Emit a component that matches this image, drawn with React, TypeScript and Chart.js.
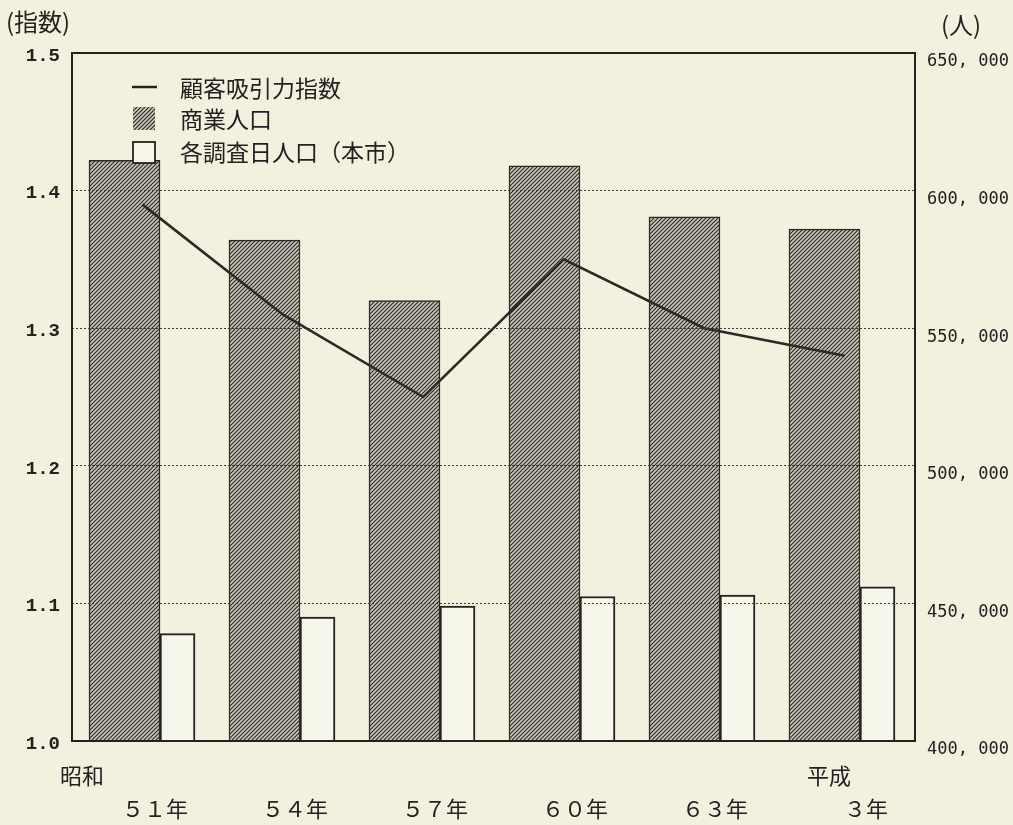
import { useEffect, useRef } from 'react';
import { Chart, registerables } from 'chart.js';

Chart.register(...registerables);

// ---- data ----
const categories = ['５１年', '５４年', '５７年', '６０年', '６３年', '３年'];
const eraLabels = ['昭和', '', '', '', '', '平成'];
const attractionIndex = [1.39, 1.31, 1.25, 1.35, 1.30, 1.28];
const commercialPopulation = [611000, 582000, 560000, 609000, 590500, 586000];
const surveyDayPopulation = [439000, 445000, 449000, 452500, 453000, 456000];
const leftTicks = [1.0, 1.1, 1.2, 1.3, 1.4, 1.5];
const rightTicks = [400000, 450000, 500000, 550000, 600000, 650000];
const seriesNames = ['顧客吸引力指数', '商業人口', '各調査日人口（本市）'];
const leftAxisTitle = '(指数)';
const rightAxisTitle = '(人)';

// ---- style ----
const BG = '#f2f1df';
const INK = '#232220';
const CJK = '"Noto Sans CJK JP", "Noto Sans", sans-serif';
const eraOffsets: Record<number, number> = { 0: -100, 5: -53 };

function makeHatch(ctx: CanvasRenderingContext2D) {
  const c = document.createElement('canvas');
  c.width = 4;
  c.height = 4;
  const g = c.getContext('2d')!;
  g.fillStyle = '#c9c7bb';
  g.fillRect(0, 0, 4, 4);
  g.strokeStyle = '#2a2925';
  g.lineWidth = 1.15;
  g.beginPath();
  g.moveTo(0, 4); g.lineTo(4, 0);
  g.moveTo(-1, 1); g.lineTo(1, -1);
  g.moveTo(3, 5); g.lineTo(5, 3);
  g.stroke();
  return ctx.createPattern(c, 'repeat')!;
}

export default function App() {
  const ref = useRef<HTMLCanvasElement>(null);

  useEffect(() => {
    const canvas = ref.current!;
    const ctx = canvas.getContext('2d')!;
    const hatch = makeHatch(ctx);

    const decor = {
      id: 'decor',
      afterDraw(chart: any) {
        const c = chart.ctx as CanvasRenderingContext2D;
        const a = chart.chartArea;
        c.save();
        // frame
        c.strokeStyle = INK;
        c.lineWidth = 2;
        c.strokeRect(a.left, a.top, a.right - a.left, a.bottom - a.top);
        // axis titles
        c.fillStyle = INK;
        c.textBaseline = 'middle';
        c.textAlign = 'left';
        c.font = `24px ${CJK}`;
        c.fillText(leftAxisTitle, 6, 22);
        c.fillText(rightAxisTitle, 941, 25);
        // era labels
        const xs = chart.scales.x;
        c.font = `22px ${CJK}`;
        eraLabels.forEach((t, i) => {
          if (!t) return;
          c.fillText(t, xs.getPixelForValue(i) + (eraOffsets[i] ?? 0), 776);
        });
        // legend
        const lx = a.left + 60;
        c.font = `23px ${CJK}`;
        c.strokeStyle = INK;
        c.lineWidth = 2.5;
        c.beginPath();
        c.moveTo(lx, 87);
        c.lineTo(lx + 25, 87);
        c.stroke();
        c.fillStyle = hatch;
        c.fillRect(lx + 1, 107, 22, 23);
        c.fillStyle = '#f7f6ea';
        c.fillRect(lx + 1, 142, 22, 21);
        c.lineWidth = 1.8;
        c.strokeRect(lx + 1, 142, 22, 21);
        c.fillStyle = INK;
        c.fillText(seriesNames[0], lx + 48, 88);
        c.fillText(seriesNames[1], lx + 48, 119);
        c.fillText(seriesNames[2], lx + 48, 152);
        c.restore();
      },
    };

    const chart = new Chart(ctx, {
      type: 'bar',
      data: {
        labels: categories,
        datasets: [
          {
            type: 'line',
            label: seriesNames[0],
            data: attractionIndex,
            xAxisID: 'xl',
            yAxisID: 'y',
            borderColor: '#2b2a27',
            borderWidth: 2.6,
            pointRadius: 0,
            tension: 0,
            order: 0,
          } as any,
          {
            type: 'bar',
            label: seriesNames[1],
            data: commercialPopulation.map((v, i) => ({ x: i, y: v })),
            xAxisID: 'x',
            yAxisID: 'y2',
            backgroundColor: hatch,
            borderColor: '#2b2a27',
            borderWidth: 1.5,
            barThickness: 71,
            order: 1,
          } as any,
          {
            type: 'bar',
            label: seriesNames[2],
            data: surveyDayPopulation.map((v, i) => ({ x: i, y: v })),
            xAxisID: 'x',
            yAxisID: 'y2',
            backgroundColor: '#f7f6ea',
            borderColor: INK,
            borderWidth: 2,
            barThickness: 35,
            order: 2,
          } as any,
        ],
      },
      options: {
        responsive: false,
        animation: false,
        events: [],
        devicePixelRatio: 1,
        layout: { padding: { top: 53, left: 0, right: 0, bottom: 0 } },
        plugins: { legend: { display: false }, tooltip: { enabled: false } },
        scales: {
          x: {
            type: 'linear',
            position: 'bottom',
            min: -0.6286,
            max: 5.393,
            offset: false,
            afterBuildTicks: (s: any) => {
              s.ticks = categories.map((_, i) => ({ value: i }));
            },
            afterFit: (s: any) => {
              s.height = 84;
            },
            grid: { display: false, offset: false, drawTicks: false },
            border: { display: false },
            ticks: {
              callback: (v: any) => categories[v] ?? '',
              align: 'end',
              labelOffset: 28,
              padding: 54,
              maxRotation: 0,
              autoSkip: false,
              color: INK,
              font: { family: CJK, size: 22 },
            },
          } as any,
          xl: {
            type: 'category',
            display: false,
            offset: true,
          },
          y: {
            position: 'left',
            min: 1.0,
            max: 1.5,
            afterBuildTicks: (s: any) => {
              s.ticks = leftTicks.map((v) => ({ value: v }));
            },
            afterFit: (s: any) => {
              s.width = 72;
            },
            grid: {
              z: 1,
              drawTicks: false,
              lineWidth: 1,
              color: (c: any) =>
                c.tick && c.tick.value > 1.0001 && c.tick.value < 1.4999 ? '#3a3936' : 'rgba(0,0,0,0)',
            },
            border: { display: false, dash: [2, 2] },
            ticks: {
              callback: (v: any) => Number(v).toFixed(1),
              padding: 12,
              labelOffset: 3,
              color: INK,
              font: { family: '"Liberation Mono", monospace', size: 19, weight: 'bold' },
            },
          } as any,
          y2: {
            position: 'right',
            min: 400000,
            max: 650000,
            afterBuildTicks: (s: any) => {
              s.ticks = rightTicks.map((v) => ({ value: v }));
            },
            afterFit: (s: any) => {
              s.width = 98;
            },
            grid: { display: false, drawTicks: false },
            border: { display: false },
            ticks: {
              callback: (v: any) => Number(v).toLocaleString('en-US').replace(/,/g, ', '),
              padding: 12,
              labelOffset: 9,
              color: INK,
              font: { family: '"DejaVu Sans Mono", monospace', size: 17 },
            },
          } as any,
        },
      },
      plugins: [decor],
    });

    return () => chart.destroy();
  }, []);

  return (
    <div
      style={{
        position: 'fixed',
        left: 0,
        top: 0,
        width: 1013,
        height: 825,
        background: BG,
        overflow: 'hidden',
      }}
    >
      <canvas ref={ref} width={1013} height={825} style={{ display: 'block', width: 1013, height: 825 }} />
    </div>
  );
}
